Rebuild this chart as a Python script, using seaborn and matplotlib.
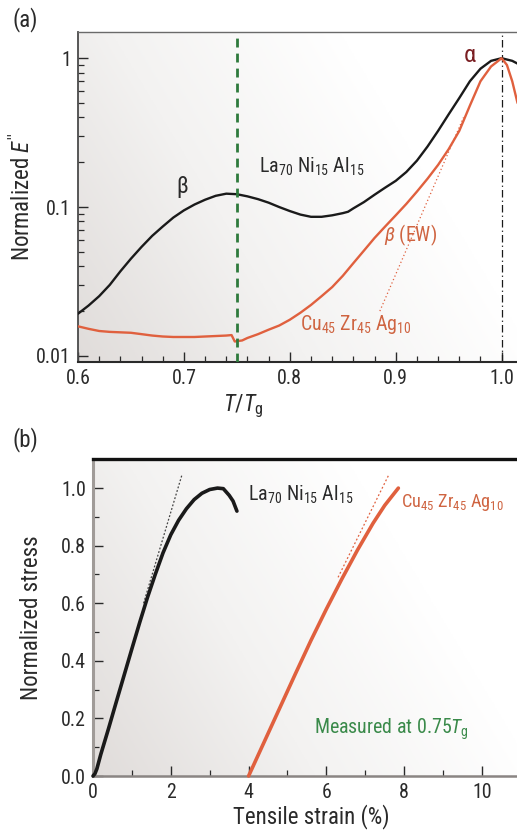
import numpy as np
import pandas as pd
import matplotlib
matplotlib.use('Agg')
import matplotlib.pyplot as plt
import seaborn as sns
from matplotlib import font_manager
from matplotlib.colors import LinearSegmentedColormap
from matplotlib.ticker import MultipleLocator, FixedLocator, FixedFormatter, NullFormatter, LogLocator

# ---------------- data: panel (a) ----------------
la_T = [0.60, 0.61, 0.62, 0.63, 0.64, 0.65, 0.66, 0.67, 0.68, 0.69, 0.70, 0.71, 0.72,
        0.73, 0.74, 0.75, 0.76, 0.77, 0.78, 0.79, 0.80, 0.81, 0.82, 0.83, 0.84, 0.85,
        0.855, 0.86, 0.87, 0.88, 0.89, 0.90, 0.91, 0.92, 0.93, 0.94, 0.95, 0.96,
        0.97, 0.98, 0.99, 1.00, 1.01, 1.015]
la_E = [0.0192, 0.0218, 0.0252, 0.030, 0.037, 0.045, 0.054, 0.064, 0.074, 0.085, 0.095,
        0.104, 0.112, 0.119, 0.123, 0.122, 0.118, 0.113, 0.107, 0.100, 0.094, 0.089,
        0.086, 0.086, 0.088, 0.091, 0.093, 0.098, 0.108, 0.121, 0.135, 0.150,
        0.172, 0.205, 0.255, 0.325, 0.42, 0.54, 0.70, 0.85, 0.96, 1.00, 0.96, 0.92]

cu_T = [0.60, 0.61, 0.62, 0.63, 0.64, 0.65, 0.66, 0.67, 0.68, 0.69, 0.70, 0.71, 0.72,
        0.73, 0.74, 0.745, 0.748, 0.755, 0.76, 0.77, 0.78, 0.79, 0.80, 0.81, 0.82, 0.83,
        0.84, 0.85, 0.86, 0.87, 0.88, 0.89, 0.90, 0.91, 0.92, 0.93, 0.94, 0.95, 0.96,
        0.97, 0.98, 0.99, 1.00, 1.005, 1.01, 1.015]
cu_E = [0.0158, 0.0152, 0.0147, 0.0145, 0.0144, 0.0143, 0.0140, 0.0137, 0.0135, 0.0134,
        0.0134, 0.0134, 0.0135, 0.0136, 0.0137, 0.0138, 0.0125, 0.0127, 0.0132, 0.0140,
        0.0150, 0.0160, 0.0175, 0.0195, 0.0220, 0.0252, 0.0290, 0.0345, 0.0420, 0.0510,
        0.0620, 0.0740, 0.0880, 0.105, 0.127, 0.155, 0.192, 0.245, 0.325, 0.48, 0.70,
        0.88, 1.00, 0.90, 0.70, 0.50]

cu_tangent_T = [0.885, 0.964]
cu_tangent_E = [0.020, 0.40]

x_ticks_a = [0.6, 0.7, 0.8, 0.9, 1.0]
x_ticklabels_a = ['0.6', '0.7', '0.8', '0.9', '1.0']
y_ticks_a = [0.01, 0.1, 1]
y_ticklabels_a = ['0.01', '0.1', '1']

# ---------------- data: panel (b) ----------------
la_strain = [0.0, 0.05, 0.1, 0.2, 0.4, 0.6, 0.8, 1.0, 1.2, 1.4, 1.6, 1.8, 2.0, 2.2, 2.4,
             2.6, 2.8, 3.0, 3.2, 3.35, 3.5, 3.6, 3.7]
la_stress = [0.0, 0.008, 0.025, 0.075, 0.165, 0.258, 0.35, 0.442, 0.533, 0.62, 0.70,
             0.775, 0.838, 0.888, 0.928, 0.96, 0.982, 0.995, 1.0, 0.998, 0.975, 0.955, 0.92]
la_tangent_x = [1.3, 2.28]
la_tangent_y = [0.60, 1.043]

cu_strain = [4.0, 4.4, 4.8, 5.2, 5.6, 6.0, 6.4, 6.8, 7.2, 7.5, 7.85]
cu_stress = [0.0, 0.118, 0.236, 0.354, 0.470, 0.580, 0.685, 0.785, 0.878, 0.940, 1.0]
cu_tangent_x = [6.3, 7.6]
cu_tangent_y = [0.69, 1.045]

x_ticks_b = [0, 2, 4, 6, 8, 10]
y_ticks_b = [0.0, 0.2, 0.4, 0.6, 0.8, 1.0]
y_ticklabels_b = ['0.0', '0.2', '0.4', '0.6', '0.8', '1.0']

# ---------------- style ----------------
sns.set_theme(style='ticks')
available = {f.name for f in font_manager.fontManager.ttflist}
FAM = 'Roboto'
for cand in ['Roboto Condensed', 'Liberation Sans Narrow', 'Open Sans Condensed', 'Roboto']:
    if cand in available:
        FAM = cand
        break
narrow = FAM != 'Roboto'
K = 1.1 if narrow else 1.0   # size factor

plt.rcParams['font.family'] = [FAM, 'DejaVu Sans']
plt.rcParams['mathtext.fontset'] = 'custom'
plt.rcParams['mathtext.rm'] = FAM
plt.rcParams['mathtext.it'] = FAM + ':italic'
plt.rcParams['mathtext.bf'] = FAM + ':bold'
plt.rcParams['mathtext.sf'] = FAM

TICK = 13 * K
LAB = 15 * K
ANN = 13 * K

ORANGE = '#e0603e'
ORANGE_TXT = '#cf6441'
BLACK = '#1a1a1a'
GREEN = '#2e7a3c'
GREEN_TXT = '#3a8a4a'
DARKRED = '#7a1e22'
TXT = '#2a2a2a'

fig = plt.figure(figsize=(5.17, 8.30), dpi=100)
W, H = 517, 830
ax_a = fig.add_axes([78 / W, 1 - 362 / H, (W - 78) / W, (362 - 32) / H])
ax_b = fig.add_axes([93 / W, 1 - 776 / H, (W - 93) / W, (776 - 459) / H])

cmap = LinearSegmentedColormap.from_list('bg', ['#e0dcda', '#f3f2f1', '#ffffff'])


def add_gradient(ax):
    xx, yy = np.meshgrid(np.linspace(0, 1, 300), np.linspace(0, 1, 300))
    t = np.clip((xx * 1.0 + yy * 0.45) / 1.05, 0, 1)
    ax.imshow(t, cmap=cmap, extent=[0, 1, 0, 1], transform=ax.transAxes,
              origin='lower', aspect='auto', zorder=0, vmin=0, vmax=1,
              interpolation='bilinear')


# ---------------- panel (a) ----------------
ax = ax_a
ax.set_yscale('log')
add_gradient(ax)
df_la = pd.DataFrame({'T': la_T, 'E': la_E})
df_cu = pd.DataFrame({'T': cu_T, 'E': cu_E})
sns.lineplot(data=df_la, x='T', y='E', ax=ax, color=BLACK, lw=1.7, sort=False,
             estimator=None, zorder=3)
sns.lineplot(data=df_cu, x='T', y='E', ax=ax, color=ORANGE, lw=1.7, sort=False,
             estimator=None, zorder=3)
ax.plot(cu_tangent_T, cu_tangent_E, color=ORANGE, lw=0.9, ls=(0, (1, 2)), zorder=2)
ax.axvline(0.75, color=GREEN, lw=2.0, ls=(0, (3.2, 2.2)), zorder=4)
ax.axvline(1.0, color=BLACK, lw=0.9, ls=(0, (6, 2.5, 1, 2.5)), zorder=2)

ax.set_xlim(0.6, 1.0145)
ax.set_ylim(0.0091, 1.5)
ax.xaxis.set_major_locator(FixedLocator(x_ticks_a))
ax.xaxis.set_major_formatter(FixedFormatter(x_ticklabels_a))
ax.xaxis.set_minor_locator(MultipleLocator(0.02))
ax.yaxis.set_major_locator(FixedLocator(y_ticks_a))
ax.yaxis.set_major_formatter(FixedFormatter(y_ticklabels_a))
ax.yaxis.set_minor_locator(LogLocator(base=10, subs=np.arange(2, 10)))
ax.yaxis.set_minor_formatter(NullFormatter())

ax.text(0.698, 0.138, 'β', fontsize=15 * K, color=TXT, ha='center', va='center', zorder=5)
ax.text(0.771, 0.170, r'La$_{70}$ Ni$_{15}$ Al$_{15}$', fontsize=ANN, color=TXT,
        ha='left', va='baseline', zorder=5)
ax.text(0.970, 0.95, 'α', fontsize=16 * K, color=DARKRED, ha='center', va='baseline', zorder=5)
ax.text(0.889, 0.0585, r'$\beta$ (EW)', fontsize=ANN, color=ORANGE_TXT,
        ha='left', va='baseline', zorder=5)
ax.text(0.8097, 0.0149, r'Cu$_{45}$ Zr$_{45}$ Ag$_{10}$', fontsize=ANN, color=ORANGE_TXT,
        ha='left', va='baseline', zorder=5)

ax.set_xlabel(r'$T$/$T_{\rm g}$', fontsize=LAB, color=TXT)
ax.set_ylabel(r"Normalized $E''$", fontsize=LAB, color=TXT)
ax.xaxis.set_label_coords(0.376, -0.092)
ax.yaxis.set_label_coords(-0.098, 0.5)

ax.spines['right'].set_visible(False)
ax.spines['top'].set_color('#6a6a6a')
ax.spines['top'].set_linewidth(1.0)
ax.spines['left'].set_color('#4a4a4a')
ax.spines['left'].set_linewidth(1.3)
ax.spines['bottom'].set_color('#2a2a2a')
ax.spines['bottom'].set_linewidth(1.5)
ax.tick_params(which='major', direction='in', length=7, width=1.0, labelsize=TICK,
               colors='#2a2a2a', pad=5)
ax.tick_params(which='minor', direction='in', length=4, width=0.9, colors='#2a2a2a')
ax.tick_params(top=False, right=False, which='both')

# ---------------- panel (b) ----------------
ax = ax_b
add_gradient(ax)
df_lab = pd.DataFrame({'strain': la_strain, 'stress': la_stress})
df_cub = pd.DataFrame({'strain': cu_strain, 'stress': cu_stress})
sns.lineplot(data=df_lab, x='strain', y='stress', ax=ax, color=BLACK, lw=2.6, sort=False,
             estimator=None, zorder=3, clip_on=False)
sns.lineplot(data=df_cub, x='strain', y='stress', ax=ax, color=ORANGE, lw=2.6, sort=False,
             estimator=None, zorder=3, clip_on=False)
ax.plot(la_tangent_x, la_tangent_y, color='#444444', lw=0.9, ls=(0, (1.5, 1.5)), zorder=2)
ax.plot(cu_tangent_x, cu_tangent_y, color=ORANGE, lw=0.9, ls=(0, (1.5, 1.8)), zorder=2)

ax.set_xlim(0, 10.9)
ax.set_ylim(0, 1.101)
ax.xaxis.set_major_locator(FixedLocator(x_ticks_b))
ax.xaxis.set_minor_locator(MultipleLocator(1))
ax.yaxis.set_major_locator(FixedLocator(y_ticks_b))
ax.yaxis.set_major_formatter(FixedFormatter(y_ticklabels_b))
ax.yaxis.set_minor_locator(MultipleLocator(0.1))

ax.text(3.98, 0.956, r'La$_{70}$ Ni$_{15}$ Al$_{15}$', fontsize=ANN, color=TXT,
        ha='left', va='baseline', zorder=5)
ax.text(7.93, 0.936, r'Cu$_{45}$ Zr$_{45}$ Ag$_{10}$', fontsize=ANN * 0.92, color=ORANGE_TXT,
        ha='left', va='baseline', zorder=5)
ax.text(5.69, 0.146, r'Measured at 0.75$T_{\rm g}$', fontsize=ANN, color=GREEN_TXT,
        ha='left', va='baseline', zorder=5)

ax.set_xlabel('Tensile strain (%)', fontsize=LAB, color=TXT)
ax.set_ylabel('Normalized stress', fontsize=LAB, color=TXT)
ax.xaxis.set_label_coords(0.514, -0.088)
ax.yaxis.set_label_coords(-0.118, 0.5)

ax.spines['right'].set_visible(False)
ax.spines['top'].set_color('#111111')
ax.spines['top'].set_linewidth(2.4)
ax.spines['left'].set_color('#a09b98')
ax.spines['left'].set_linewidth(2.2)
ax.spines['bottom'].set_color('#8a8583')
ax.spines['bottom'].set_linewidth(1.8)
ax.tick_params(which='major', direction='in', length=7, width=1.0, labelsize=TICK,
               colors='#2a2a2a', pad=5)
ax.tick_params(which='minor', direction='in', length=4, width=0.9, colors='#2a2a2a')
ax.tick_params(top=False, right=False, which='both')

fig.text(25 / W, 1 - 20 / H, '(a)', fontsize=LAB, color=TXT, ha='center', va='center')
fig.text(25 / W, 1 - 440 / H, '(b)', fontsize=LAB, color=TXT, ha='center', va='center')

fig.savefig('out.png', dpi=100)
